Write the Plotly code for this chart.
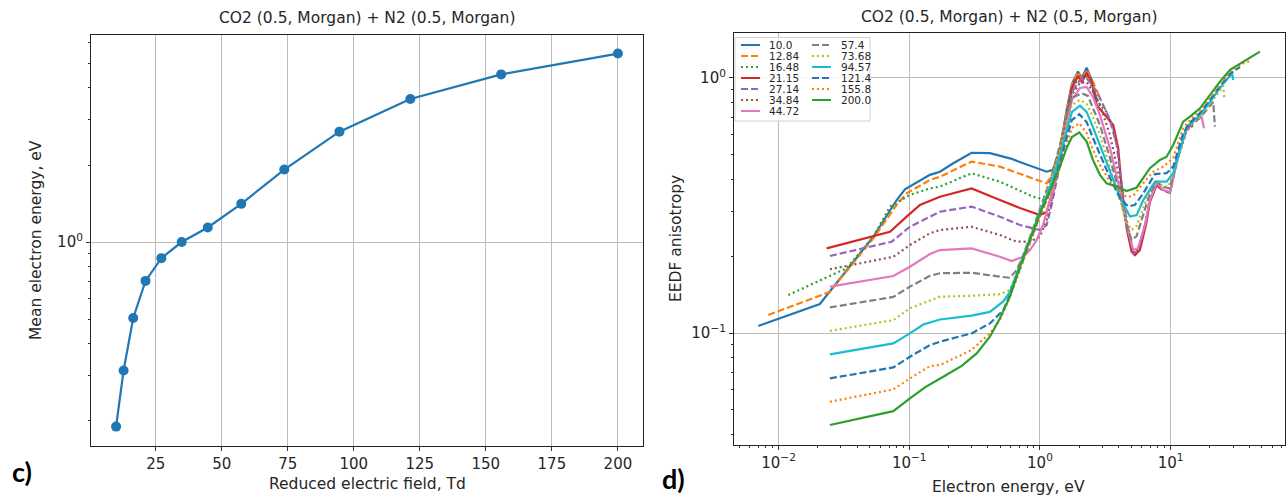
import plotly.graph_objects as go

W, H = 1287, 497
TITLE = "CO2 (0.5, Morgan) + N2 (0.5, Morgan)"
FONT = "DejaVu Sans"
TXT = "#262626"

# ---- panel c: mean electron energy vs reduced field ----
reduced_field = [10.0, 12.84, 16.48, 21.15, 27.14, 34.84, 44.72, 57.4, 73.68, 94.57, 121.4, 155.8, 200.0]
mean_energy = [0.19, 0.315, 0.505, 0.705, 0.865, 1.0, 1.14, 1.41, 1.92, 2.70, 3.62, 4.52, 5.45]

# ---- panel d: EEDF anisotropy vs electron energy, one curve per reduced field ----
field_labels = ["10.0", "12.84", "16.48", "21.15", "27.14", "34.84", "44.72",
                "57.4", "73.68", "94.57", "121.4", "155.8", "200.0"]

energy_10_0 = [0.0070, 0.0207, 0.0531, 0.0801, 0.0927, 0.1139, 0.1439, 0.1718, 0.2172, 0.300, 0.414, 0.589,
               0.889, 1.125, 1.257, 1.422, 1.60, 1.757, 1.953, 2.09, 2.276, 2.488, 2.716]
aniso_10_0 = [0.1066, 0.130, 0.2385, 0.332, 0.366, 0.388, 0.417, 0.429, 0.463, 0.509, 0.507, 0.484,
              0.449, 0.429, 0.436, 0.522, 0.749, 0.947, 1.059, 1.0, 1.097, 0.982, 0.820]

energy_12_84 = [0.00834, 0.0247, 0.0531, 0.0801, 0.0955, 0.1439, 0.1718, 0.300, 0.494, 0.889, 1.125, 1.235,
                1.422, 1.60, 1.757, 1.953, 2.09, 2.276, 2.544, 2.877]
aniso_12_84 = [0.1177, 0.145, 0.235, 0.318, 0.353, 0.398, 0.410, 0.470, 0.449, 0.401, 0.386, 0.417,
               0.522, 0.736, 0.939, 1.056, 0.982, 1.075, 0.964, 0.835]

energy_16_48 = [0.01186, 0.0332, 0.0531, 0.0712, 0.1012, 0.1439, 0.1718, 0.300, 0.494, 0.889, 1.125, 1.229,
                1.422, 1.60, 1.757, 2.024, 2.276, 2.544, 2.877, 3.237, 3.637, 3.82]
aniso_16_48 = [0.141, 0.1795, 0.2385, 0.313, 0.348, 0.369, 0.375, 0.423, 0.392, 0.342, 0.332, 0.364,
               0.486, 0.697, 0.914, 1.009, 1.027, 0.897, 0.784, 0.736, 0.637, 0.556]

energy_21_15 = [0.0233, 0.0712, 0.0955, 0.1208, 0.1718, 0.300, 0.494, 0.703, 1.0, 1.125, 1.229, 1.422, 1.60,
                1.757, 1.953, 2.09, 2.276, 2.488, 2.716, 3.237, 3.637, 3.97, 4.22, 4.606, 5.03, 5.33, 5.82,
                6.47, 6.943, 7.81, 8.58]
aniso_21_15 = [0.2148, 0.2496, 0.2858, 0.318, 0.342, 0.369, 0.332, 0.309, 0.290, 0.298, 0.348, 0.477, 0.684,
               0.914, 1.018, 0.964, 1.043, 0.967, 0.784, 0.705, 0.654, 0.530, 0.369, 0.2575, 0.2083, 0.202,
               0.2115, 0.265, 0.3265, 0.380, 0.364]

energy_27_14 = [0.0247, 0.0733, 0.1012, 0.1208, 0.1718, 0.300, 0.494, 0.703, 0.889, 1.0, 1.125, 1.229, 1.422,
                1.60, 1.757, 2.024, 2.276, 2.544, 2.877, 3.433, 3.862, 4.24, 4.63, 5.174, 5.62, 6.36, 6.943,
                7.81, 8.73, 9.88, 11.12, 12.2]
aniso_27_14 = [0.2004, 0.228, 0.261, 0.273, 0.299, 0.313, 0.2858, 0.265, 0.2575, 0.2535, 0.265, 0.318, 0.456,
               0.672, 0.881, 0.982, 0.997, 0.930, 0.835, 0.684, 0.546, 0.380, 0.265, 0.206, 0.210, 0.263, 0.332,
               0.388, 0.364, 0.354, 0.464, 0.571]

energy_34_84 = [0.0247, 0.0755, 0.1012, 0.1439, 0.1718, 0.300, 0.494, 0.664, 0.839, 1.0, 1.125, 1.229, 1.422,
                1.60, 1.757, 2.024, 2.276, 2.544, 2.877, 3.433, 4.093, 4.606, 5.174, 5.62, 6.36, 6.943, 7.81,
                8.73, 9.88, 11.12, 13.26, 14.55, 14.9]
aniso_34_84 = [0.1778, 0.199, 0.2213, 0.246, 0.2535, 0.261, 0.2423, 0.228, 0.228, 0.2385, 0.2775, 0.332, 0.477,
               0.684, 0.858, 0.956, 0.964, 0.881, 0.784, 0.598, 0.398, 0.2775, 0.208, 0.2115, 0.265, 0.332, 0.388,
               0.364, 0.354, 0.469, 0.620, 0.648, 0.625]

energy_44_72 = [0.0247, 0.0755, 0.1012, 0.1439, 0.1718, 0.300, 0.494, 0.607, 0.745, 0.839, 0.944, 1.054, 1.229,
                1.422, 1.60, 1.757, 2.024, 2.276, 2.544, 2.877, 3.433, 4.093, 4.606, 5.174, 5.62, 6.36, 6.943,
                7.81, 8.73, 9.88, 11.12, 13.26, 15.35, 17.27, 17.98]
aniso_44_72 = [0.152, 0.1673, 0.182, 0.204, 0.2115, 0.2148, 0.199, 0.1915, 0.199, 0.2115, 0.2316, 0.265, 0.348,
               0.477, 0.654, 0.820, 0.914, 0.922, 0.842, 0.716, 0.531, 0.364, 0.265, 0.2115, 0.215, 0.265, 0.332,
               0.388, 0.364, 0.357, 0.477, 0.625, 0.684, 0.705, 0.635]

energy_57_4 = [0.0247, 0.0755, 0.1012, 0.1439, 0.1718, 0.300, 0.494, 0.589, 0.664, 0.745, 0.839, 1.0, 1.229,
               1.422, 1.60, 1.757, 2.09, 2.33, 2.544, 2.877, 3.433, 4.093, 4.606, 5.03, 5.495, 6.173, 6.943,
               7.81, 8.73, 9.88, 11.12, 13.26, 16.75, 20.0, 21.2, 21.8]
aniso_57_4 = [0.126, 0.1385, 0.152, 0.1675, 0.1715, 0.1723, 0.1663, 0.1647, 0.1767, 0.202, 0.2378, 0.309, 0.413,
              0.546, 0.716, 0.835, 0.871, 0.850, 0.763, 0.654, 0.486, 0.348, 0.265, 0.2316, 0.240, 0.290, 0.354,
              0.392, 0.374, 0.369, 0.477, 0.631, 0.697, 0.777, 0.805, 0.644]

energy_73_68 = [0.0247, 0.0755, 0.1012, 0.1439, 0.1718, 0.300, 0.494, 0.589, 0.664, 0.745, 0.839, 1.0, 1.229,
                1.422, 1.60, 1.757, 2.024, 2.276, 2.544, 2.877, 3.433, 4.093, 4.606, 5.03, 5.495, 6.173, 6.943,
                7.81, 8.73, 9.59, 10.79, 13.26, 16.75, 20.0, 23.84, 25.3, 25.7]
aniso_73_68 = [0.102, 0.1124, 0.125, 0.1346, 0.1388, 0.140, 0.142, 0.1475, 0.1735, 0.202, 0.236, 0.304, 0.398,
               0.522, 0.672, 0.784, 0.820, 0.791, 0.703, 0.598, 0.448, 0.332, 0.272, 0.2535, 0.263, 0.309, 0.364,
               0.392, 0.377, 0.375, 0.436, 0.638, 0.703, 0.791, 0.897, 0.930, 0.835]

energy_94_57 = [0.0247, 0.0755, 0.1012, 0.128, 0.1718, 0.300, 0.414, 0.524, 0.589, 0.703, 0.839, 1.0, 1.229,
                1.422, 1.60, 1.757, 2.024, 2.276, 2.544, 2.877, 3.433, 4.093, 4.883, 5.495, 6.173, 7.586, 9.31,
                10.47, 13.26, 16.75, 20.0, 23.84, 28.45, 29.4, 30.1]
aniso_94_57 = [0.0825, 0.0911, 0.0997, 0.108, 0.113, 0.117, 0.121, 0.133, 0.145, 0.183, 0.234, 0.298, 0.388,
               0.494, 0.625, 0.736, 0.779, 0.736, 0.642, 0.546, 0.428, 0.341, 0.286, 0.290, 0.332, 0.392, 0.392,
               0.423, 0.644, 0.716, 0.805, 0.914, 1.018, 1.056, 0.982]

energy_121_4 = [0.0247, 0.0755, 0.1012, 0.1439, 0.1718, 0.300, 0.414, 0.524, 0.589, 0.703, 0.839, 1.0, 1.229,
                1.422, 1.60, 1.757, 2.0, 2.276, 2.544, 2.877, 3.433, 4.093, 4.74, 5.33, 6.173, 7.586, 9.31,
                10.47, 12.48, 14.06, 16.75, 20.0, 23.84, 28.45, 33.9]
aniso_121_4 = [0.0664, 0.0733, 0.0807, 0.0897, 0.0925, 0.0997, 0.109, 0.123, 0.141, 0.180, 0.2295, 0.290, 0.371,
               0.464, 0.582, 0.684, 0.721, 0.672, 0.582, 0.499, 0.406, 0.338, 0.313, 0.318, 0.353, 0.420, 0.423,
               0.449, 0.607, 0.667, 0.729, 0.820, 0.930, 1.037, 1.104]

energy_155_8 = [0.0247, 0.0755, 0.1012, 0.1439, 0.1718, 0.300, 0.414, 0.494, 0.589, 0.703, 0.839, 1.0, 1.229,
                1.422, 1.60, 1.757, 2.0, 2.276, 2.544, 2.877, 3.433, 4.093, 4.606, 5.174, 6.173, 7.36, 8.78,
                10.47, 12.48, 14.06, 16.75, 20.0, 23.84, 28.45, 35.9, 40.4]
aniso_155_8 = [0.0538, 0.0601, 0.0664, 0.0742, 0.0749, 0.0858, 0.0997, 0.1124, 0.1385, 0.177, 0.2254, 0.285,
               0.364, 0.444, 0.546, 0.637, 0.664, 0.607, 0.522, 0.456, 0.392, 0.358, 0.341, 0.345, 0.387, 0.429,
               0.449, 0.486, 0.637, 0.684, 0.742, 0.835, 0.947, 1.056, 1.140, 1.166]

energy_200_0 = [0.0247, 0.0755, 0.1012, 0.1318, 0.182, 0.2517, 0.328, 0.414, 0.494, 0.589, 0.703, 0.839, 1.0,
                1.229, 1.422, 1.60, 1.757, 2.0, 2.276, 2.544, 2.877, 3.237, 3.862, 4.606, 5.495, 6.943, 8.279,
                9.31, 10.47, 12.48, 14.06, 16.75, 20.0, 23.84, 28.45, 35.9, 42.6, 48.2]
aniso_200_0 = [0.0436, 0.0494, 0.0554, 0.0612, 0.0674, 0.0743, 0.0832, 0.0967, 0.1142, 0.1388, 0.182, 0.2316,
               0.2946, 0.375, 0.449, 0.531, 0.587, 0.612, 0.563, 0.477, 0.417, 0.386, 0.375, 0.360, 0.372, 0.443,
               0.477, 0.491, 0.546, 0.674, 0.705, 0.760, 0.858, 0.967, 1.075, 1.158, 1.22, 1.268]

curves = [
    (energy_10_0, aniso_10_0), (energy_12_84, aniso_12_84), (energy_16_48, aniso_16_48),
    (energy_21_15, aniso_21_15), (energy_27_14, aniso_27_14), (energy_34_84, aniso_34_84),
    (energy_44_72, aniso_44_72), (energy_57_4, aniso_57_4), (energy_73_68, aniso_73_68),
    (energy_94_57, aniso_94_57), (energy_121_4, aniso_121_4), (energy_155_8, aniso_155_8),
    (energy_200_0, aniso_200_0),
]

palette = ["#1f77b4", "#ff7f0e", "#2ca02c", "#d62728", "#9467bd", "#8c564b", "#e377c2",
           "#7f7f7f", "#bcbd22", "#17becf"]
dash_cycle = ["solid", "7px,3px", "2px,3px"]

fig = go.Figure()

fig.add_trace(go.Scatter(
    x=reduced_field, y=mean_energy, mode="lines+markers",
    line=dict(color="#1f77b4", width=2.2), marker=dict(size=10, color="#1f77b4"),
    xaxis="x", yaxis="y", showlegend=False,
))

styles = []
for i, ((e, a), lab) in enumerate(zip(curves, field_labels)):
    col = palette[i % len(palette)]
    dash = dash_cycle[i % 3]
    styles.append((col, dash))
    fig.add_trace(go.Scatter(
        x=e, y=a, mode="lines", name=lab,
        line=dict(color=col, width=2.2, dash=dash),
        xaxis="x2", yaxis="y2", showlegend=False,
    ))


def decade_minors(lo_exp, hi_exp, lo, hi):
    vals = []
    for ex in range(lo_exp, hi_exp + 1):
        for m in range(2, 10):
            v = m * 10.0 ** ex
            if lo <= v <= hi:
                vals.append(v)
    return vals


tick_font = dict(family=FONT, size=15, color=TXT)
common = dict(
    ticks="outside", ticklen=4, tickwidth=1, tickcolor="#333333",
    showgrid=True, gridcolor="#bcbcbc", gridwidth=1,
    showline=True, linecolor="#222222", linewidth=1.2, mirror=True,
    zeroline=False, tickfont=tick_font,
)
minor_common = dict(ticks="outside", ticklen=2, tickwidth=1, tickcolor="#333333", showgrid=False)

fig.update_layout(
    width=W, height=H,
    margin=dict(l=0, r=0, t=0, b=0),
    paper_bgcolor="white", plot_bgcolor="white",
    showlegend=False,
    xaxis=dict(domain=[91 / W, 643 / W], range=[0.5, 209.5],
               tickvals=[25, 50, 75, 100, 125, 150, 175, 200], anchor="y", **common),
    yaxis=dict(domain=[1 - 446 / H, 1 - 35 / H], type="log", range=[-0.797, 0.809],
               tickvals=[1], ticktext=["10<sup>0</sup>"], anchor="x",
               minor=dict(tickvals=decade_minors(-1, 0, 0.15, 6.5), **minor_common), **common),
    xaxis2=dict(domain=[734 / W, 1285 / W], type="log", range=[-2.341, 1.875],
                tickvals=[0.01, 0.1, 1, 10],
                ticktext=["10<sup>−2</sup>", "10<sup>−1</sup>", "10<sup>0</sup>", "10<sup>1</sup>"],
                anchor="y2",
                minor=dict(tickvals=decade_minors(-3, 1, 0.0045, 75), **minor_common), **common),
    yaxis2=dict(domain=[1 - 444.5 / H, 1 - 33.3 / H], type="log", range=[-1.437, 0.175],
                tickvals=[0.1, 1], ticktext=["10<sup>−1</sup>", "10<sup>0</sup>"], anchor="x2",
                minor=dict(tickvals=decade_minors(-2, 0, 0.035, 1.5), **minor_common), **common),
)


def px(x, y):
    return x / W, 1 - y / H


annotations = []


def add_text(x, y, text, size=12, angle=0, xanchor="center", bold=False, family=FONT, color=TXT):
    xp, yp = px(x, y)
    annotations.append(dict(
        x=xp, y=yp, xref="paper", yref="paper", text=f"<b>{text}</b>" if bold else text,
        showarrow=False, xanchor=xanchor, yanchor="middle", textangle=angle,
        font=dict(family=family, size=size, color=color),
    ))


add_text(367, 18, TITLE, size=15.5)
add_text(1009, 17, TITLE, size=15.5)
add_text(367, 484, "Reduced electric field, Td", size=15.5)
add_text(1009, 487, "Electron energy, eV", size=15.5)
add_text(36, 240, "Mean electron energy, eV", size=15.5, angle=-90)
add_text(676, 239, "EEDF anisotropy", size=15.5, angle=-90)
add_text(22, 471, "c)", size=27, bold=True, family="Lato", color="#000000")
add_text(673, 478, "d)", size=27, bold=True, family="Lato", color="#000000")

# legend box for panel d (two columns)
shapes = []
x0, y0 = px(735, 121)
x1, y1 = px(870, 37.5)
shapes.append(dict(type="rect", xref="paper", yref="paper", x0=x0, y0=y0, x1=x1, y1=y1,
                   line=dict(color="#d0d0d0", width=1), fillcolor="rgba(255,255,255,0.85)", layer="above"))
row_y = [45, 56, 67, 78, 89, 100, 111]
for i, lab in enumerate(field_labels):
    col, dash = styles[i]
    if i < 7:
        sx0, sx1, tx, ry = 741, 760, 767, row_y[i]
    else:
        sx0, sx1, tx, ry = 812, 831, 839, row_y[i - 7]
    a0, b0 = px(sx0, ry)
    a1, _ = px(sx1, ry)
    shapes.append(dict(type="line", xref="paper", yref="paper", x0=a0, y0=b0, x1=a1, y1=b0,
                       line=dict(color=col, width=2, dash=dash), layer="above"))
    add_text(tx, ry, lab, size=10.5, xanchor="left")

fig.update_layout(annotations=annotations, shapes=shapes)

fig.write_html("out.html")
